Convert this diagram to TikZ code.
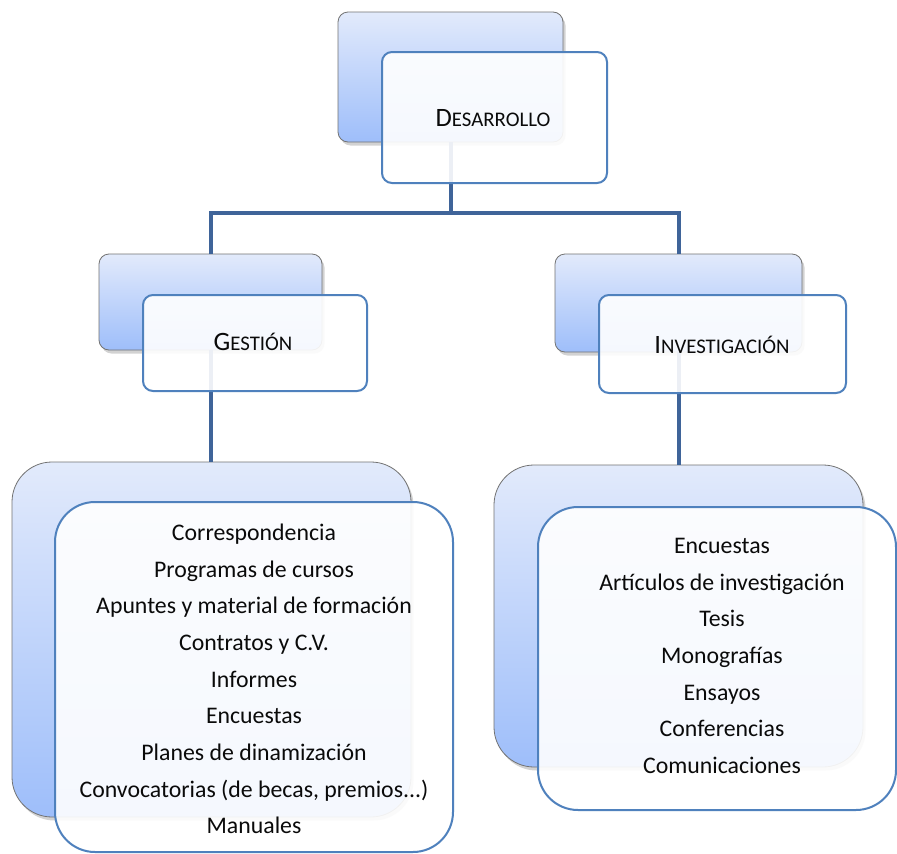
\documentclass[tikz,border=0pt]{standalone}
\usepackage{fontspec}
\setmainfont{Carlito}
\usetikzlibrary{shadows}
\definecolor{backtop}{RGB}{226,234,251}
\definecolor{backbot}{RGB}{158,190,250}
\definecolor{frontline}{RGB}{79,129,189}
\definecolor{connline}{RGB}{63,100,153}
\definecolor{ink}{RGB}{10,10,10}
\newcommand\fakesc[2]{{\fontsize{26.5}{30}\selectfont #1}{\fontsize{20.8}{24}\selectfont #2}}
\tikzset{
  backbox/.style={draw=black!55, line width=0.8pt, rounded corners=#1,
    top color=backtop, bottom color=backbot,
    drop shadow={opacity=0.35, shadow xshift=2.5pt, shadow yshift=-3.5pt},
    inner sep=0pt},
  frontbox/.style={draw=frontline, line width=2pt, rounded corners=#1,
    fill=white, fill opacity=0.9, inner sep=0pt},
  conn/.style={draw=connline, line width=4pt},
  heading/.style={text=ink, inner sep=0pt},
  itemlist/.style={text=ink, align=center, inner sep=0pt,
    font=\fontsize{23.8}{36.7}\selectfont}
}
\begin{document}
\begin{tikzpicture}[x=1pt,y=-1pt]
\useasboundingbox[fill=white] (0,0) rectangle (897,854);

% back panels
\node[backbox=10pt, minimum width=225pt, minimum height=130pt] (dback) at (450.5,77) {};
\node[backbox=10pt, minimum width=223pt, minimum height=96pt] (gback) at (210.5,302) {};
\node[backbox=10pt, minimum width=247pt, minimum height=98pt] (iback) at (678.5,303) {};
\node[backbox=40pt, minimum width=399pt, minimum height=355pt] (lback) at (211.5,639.5) {};
\node[backbox=40pt, minimum width=369pt, minimum height=302pt] (rback) at (678.5,616) {};

% connectors
\draw[conn] (dback.south) -- ++(0,71) coordinate (hub);
\draw[conn] (hub) -| (gback.north);
\draw[conn] (hub) -| (iback.north);
\draw[conn] (gback.south) -- (gback.south |- lback.north);
\draw[conn] (iback.south) -- (iback.south |- rback.north);

% front panels
\node[frontbox=10pt, minimum width=225pt, minimum height=131pt] (dfront) at (494.5,117.5) {};
\node[frontbox=10pt, minimum width=224pt, minimum height=96pt] (gfront) at (255,343) {};
\node[frontbox=10pt, minimum width=247pt, minimum height=98pt] (ifront) at (722.5,344) {};
\node[frontbox=40pt, minimum width=398pt, minimum height=350pt] (lfront) at (254,677) {};
\node[frontbox=40pt, minimum width=358pt, minimum height=303pt] (rfront) at (717,658.5) {};

% labels
\node[heading] (dtext) at (493,118) {\fakesc{D}{ESARROLLO}};
\node[heading] (gtext) at (253,342) {\fakesc{G}{ESTIÓN}};
\node[heading] (itext) at (722,345) {\fakesc{I}{NVESTIGACIÓN}};

\node[itemlist] (ltext) at (254,679) {Correspondencia\\ Programas de cursos\\ Apuntes y material de formación\\ Contratos y C.V.\\ Informes\\ Encuestas\\ Planes de dinamización\\ Convocatorias (de becas, premios...)\\ Manuales};
\node[itemlist] (rtext) at (722,656) {Encuestas\\ Artículos de investigación\\ Tesis\\ Monografías\\ Ensayos\\ Conferencias\\ Comunicaciones};
\end{tikzpicture}
\end{document}
